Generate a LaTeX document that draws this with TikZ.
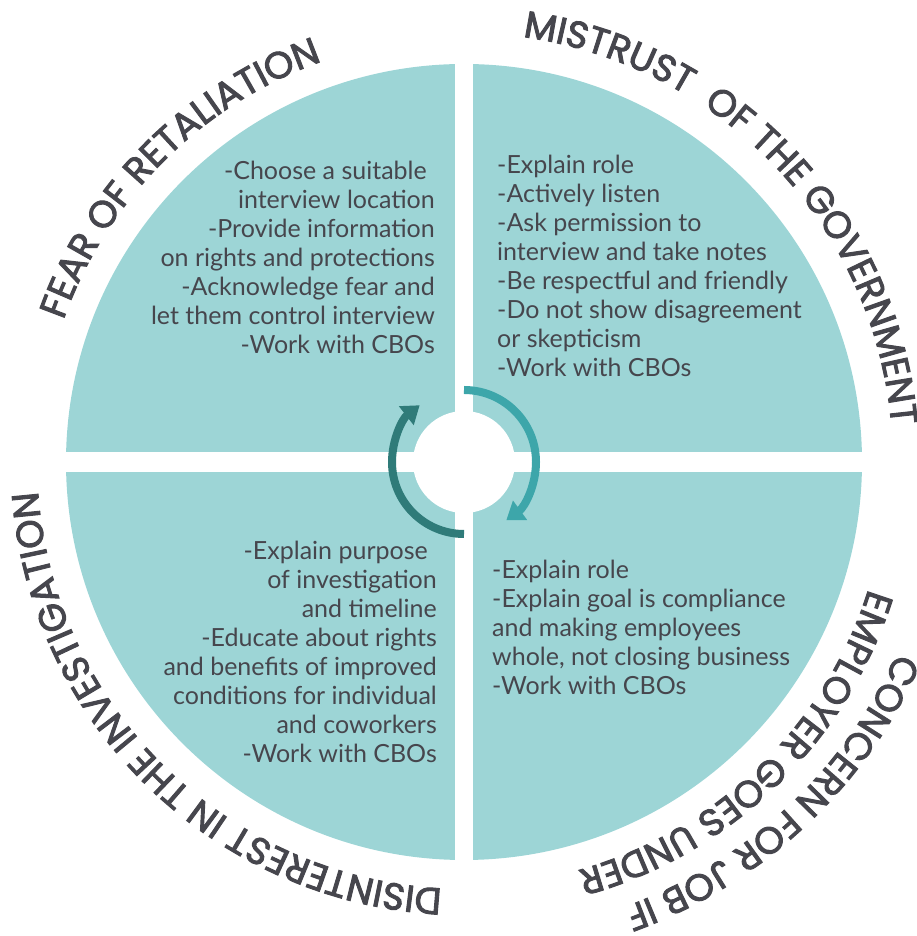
\documentclass[tikz,border=0pt]{standalone}
\usepackage{fontspec}
\setmainfont{Lato}
\newfontfamily\titlefont{Poppins}[FakeBold=2.5]
\usetikzlibrary{decorations.text,arrows.meta}
\definecolor{quad}{HTML}{9DD5D6}
\definecolor{txt}{HTML}{46464D}
\definecolor{arrdark}{HTML}{2F7B79}
\definecolor{arrlight}{HTML}{3DA6AA}
\begin{document}
\begin{tikzpicture}[x=1pt,y=1pt,
  body/.style={font=\fontsize{25}{29}\selectfont, text=txt, inner sep=0pt},
  ttl/.style={decorate, decoration={text along path, text align=center, text color=txt,
     text={|\titlefont\fontsize{37.5}{42}\selectfont|#1}}},
  cyc/.style={line width=8pt, -{Triangle[width=23pt,length=17pt]}}]
\useasboundingbox (0,0) rectangle (917,936);
\coordinate (c) at (464,474);
% quadrants
\fill[quad] (c) circle (398);
\fill[white] (455,60) rectangle (473,880);
\fill[white] (50,464) rectangle (880,484);
\fill[white] (c) circle (51);
% cycle arrows
\draw[arrdark, cyc] ([shift={(270:72)}]c) arc[start angle=270, end angle=128, radius=72];
\draw[arrlight, cyc] ([shift={(90:72)}]c) arc[start angle=90, end angle=-54, radius=72];
% titles
\path[ttl={FEAR OF RETALIATION}] ([shift={(185:425)}]c) arc[start angle=185, end angle=85, radius=425];
\path[ttl={MISTRUST{\ }{\ }OF THE GOVERNMENT}] ([shift={(105:429)}]c) arc[start angle=105, end angle=-18, radius=429];
\path[ttl={DISINTEREST IN THE INVESTIGATION}] ([shift={(295:427)}]c) arc[start angle=295, end angle=156, radius=427];
\path[ttl={CONCERN FOR JOB IF}] ([shift={(353:473)}]c) arc[start angle=353, end angle=273, radius=473];
\path[ttl={EMPLOYER GOES UNDER}] ([shift={(360:424)}]c) arc[start angle=360, end angle=268, radius=424];
% body texts
\node[body, align=right, anchor=east] (tl) at (435,679) {-Choose a suitable\hspace*{8pt}\\interview location\\-Provide information\hspace*{8pt}\\on rights and protections\hspace*{7pt}\\-Acknowledge fear and\hspace*{8pt}\\let them control interview\\-Work with CBOs};
\node[body, align=left, anchor=west] (tr) at (497,670) {-Explain role\\-Actively listen\\-Ask permission to\\interview and take notes\\-Be respectful and friendly\\-Do not show disagreement\\or skepticism\\-Work with CBOs};
\node[body, align=right, anchor=east] (bl) at (437,284) {-Explain purpose\hspace*{9pt}\\of investigation\hspace*{10pt}\\and timeline\\-Educate about rights\hspace*{8pt}\\and benefits of improved\hspace*{9pt}\\conditions for individual\hspace*{10pt}\\and coworkers\\-Work with CBOs};
\node[body, align=left, anchor=west] (br) at (492,309) {-Explain role\\-Explain goal is compliance\\and making employees\\whole, not closing business\\-Work with CBOs};
\end{tikzpicture}
\end{document}
